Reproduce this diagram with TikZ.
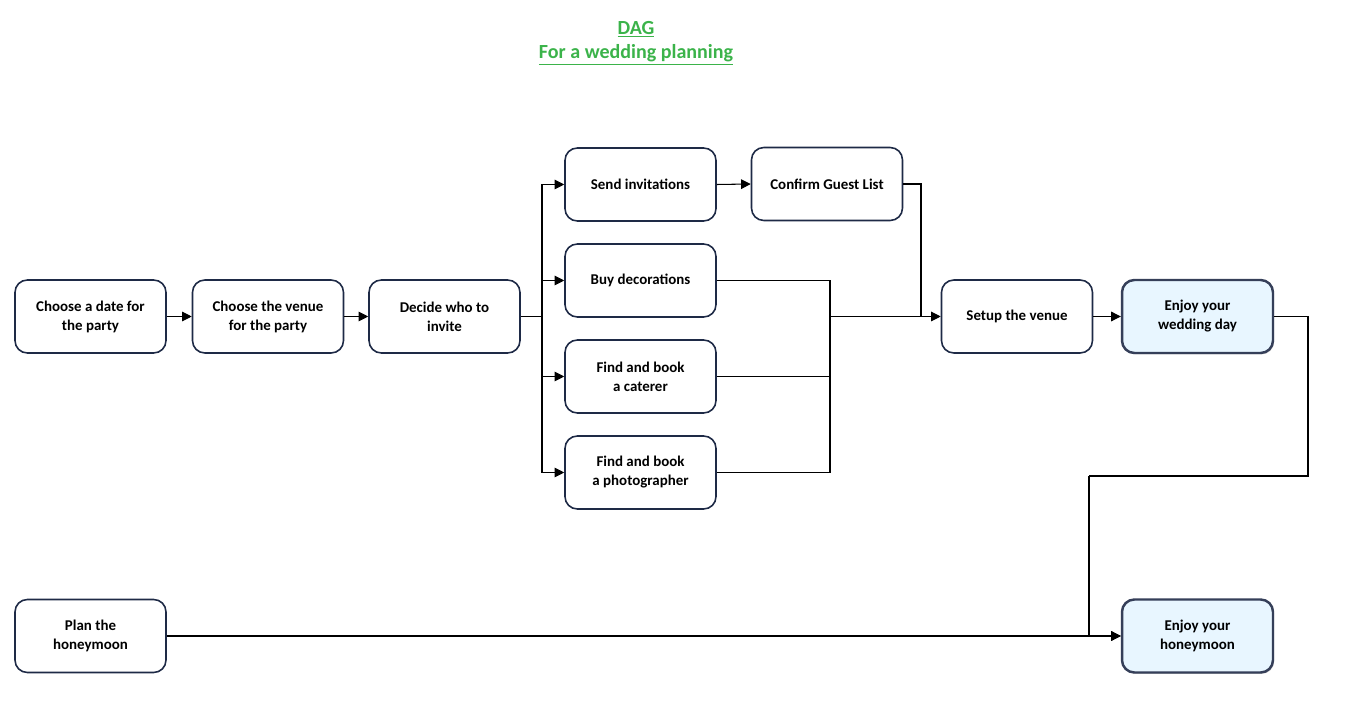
\documentclass[tikz,border=0pt]{standalone}
\usepackage{fontspec}
\setmainfont{Carlito}
\usetikzlibrary{arrows.meta,shadows}
\definecolor{titlegreen}{RGB}{59,179,74}
\definecolor{boxline}{RGB}{30,42,70}
\definecolor{goalfill}{RGB}{232,246,255}
\tikzset{
	task/.style={draw=boxline, line width=0.9pt, rounded corners=7pt, fill=white,
		minimum width=3.02cm, minimum height=1.46cm, align=center,
		font=\bfseries\fontsize{8.5}{10.8}\selectfont},
	goal/.style={task, fill=goalfill, draw=boxline!90, line width=1.4pt,
		drop shadow={shadow xshift=0.6pt, shadow yshift=-0.8pt, opacity=0.4}},
	link/.style={draw=black, line width=0.6pt},
	arr/.style={link, -{Triangle[length=5.5pt,width=5.5pt]}}
}
\begin{document}
\begin{tikzpicture}[x=0.02cm,y=-0.02cm]
	\useasboundingbox (0,0) rectangle (1346,702);
	%Title
	\node[text=titlegreen, font=\bfseries\fontsize{11.4}{13.6}\selectfont, align=center] (title) at (636,43)
		{\underline{DAG}\\\underline{For a wedding planning}};
	%First row
	\node[task] (date) at (90.5,316.5) {Choose a date for\\the party};
	\node[task] (venue) at (268,316.5) {Choose the venue\\for the party};
	\node[task] (decide) at (444.5,316.5) {Decide who to\\invite};
	%The four parallel tasks
	\node[task] (send) at (640.5,184.5) {Send invitations};
	\node[task] (deco) at (640.5,280.5) {Buy decorations};
	\node[task] (cater) at (640.5,376.5) {Find and book\\a caterer};
	\node[task] (photo) at (640.5,472.5) {Find and book\\a photographer};
	\node[task] (confirm) at (827,184) {Confirm Guest List};
	%Last steps
	\node[task] (setup) at (1017,316.5) {Setup the venue};
	\node[goal] (wedding) at (1197.5,316.5) {Enjoy your\\wedding day};
	\node[task] (plan) at (90.5,636) {Plan the\\honeymoon};
	\node[goal] (moon) at (1197.5,636) {Enjoy your\\honeymoon};
	%Junction points
	\coordinate (split) at (542,316.5);
	\coordinate (merge) at (830,316.5);
	\coordinate (guest) at (921,316.5);
	\coordinate (right) at (1308,476);
	\coordinate (drop) at (1089,476);
	%Connectors
	\draw[arr] (date) -- (venue);
	\draw[arr] (venue) -- (decide);
	\draw[link] (decide.east) -- (split);
	\draw[arr] (split) |- (send.west);
	\draw[arr] (split) |- (deco.west);
	\draw[arr] (split) |- (cater.west);
	\draw[arr] (split) |- (photo.west);
	\draw[arr] (send.east) -- (confirm.west);
	\draw[link] (confirm.east) -| (guest);
	\draw[link] (deco.east) -| (merge);
	\draw[link] (cater.east) -| (merge);
	\draw[link] (photo.east) -| (merge);
	\draw[arr] (merge) -- (setup.west);
	\draw[arr] (setup) -- (wedding);
	\draw[link] (wedding.east) -| (right) -- (drop);
	\draw[arr] (drop) |- (moon.west);
	\draw[arr] (plan.east) -- (moon.west);
\end{tikzpicture}
\end{document}
